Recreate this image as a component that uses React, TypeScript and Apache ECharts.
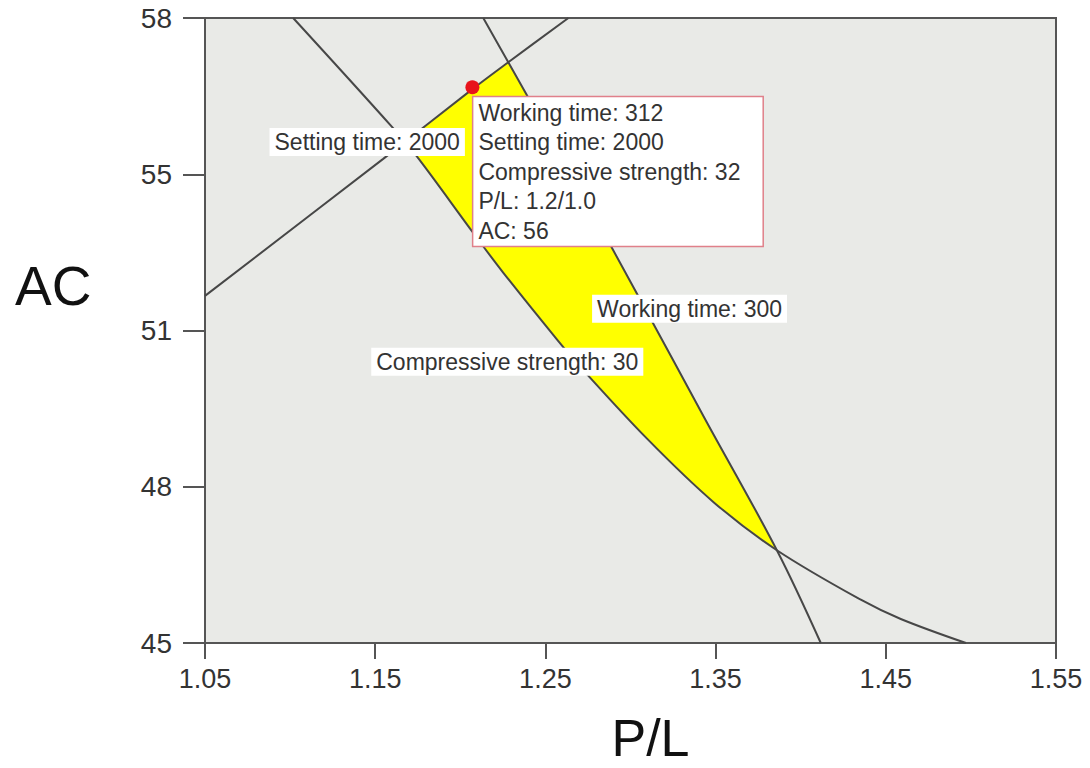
import React, { useEffect, useRef } from "react";
import * as echarts from "echarts";

// Contour: Setting time = 2000
const settingTimePL = [1.05, 1.1547, 1.2071, 1.2282, 1.2635];
const settingTimeAC = [52.22, 55.07, 56.52, 57.08, 58.0];
// Contour: Working time = 300
const workingTimePL = [1.2135, 1.2282, 1.2671, 1.3059, 1.3441, 1.386, 1.4118];
const workingTimeAC = [58.0, 57.08, 54.63, 52.13, 49.64, 46.93, 45.0];
// Contour: Compressive strength = 30
const strengthPL = [1.1018, 1.16, 1.1747, 1.2076, 1.2253, 1.2571, 1.2706, 1.31, 1.3488, 1.386, 1.4353, 1.4588, 1.4971];
const strengthAC = [58.0, 55.73, 55.11, 53.53, 52.7, 51.3, 50.74, 49.24, 47.93, 46.93, 45.9, 45.5, 45.0];
// Feasible (overlay) region
const regionPL = [1.1676, 1.2071, 1.2282, 1.2671, 1.3059, 1.3441, 1.386, 1.3488, 1.31, 1.2706, 1.2571, 1.2253, 1.2076, 1.1747];
const regionAC = [55.42, 56.52, 57.08, 54.63, 52.13, 49.64, 46.93, 47.93, 49.24, 50.74, 51.3, 52.7, 53.53, 55.11];
// Selected optimum point
const optimumPL = 1.2071;
const optimumAC = 56.56;
const optimumLines = ["Working time: 312", "Setting time: 2000", "Compressive strength: 32", "P/L: 1.2/1.0", "AC: 56"];
// Contour labels
const contourLabels = ["Setting time: 2000", "Working time: 300", "Compressive strength: 30"];
const contourLabelPL = [1.1453, 1.3347, 1.2276];
const contourLabelAC = [55.42, 51.95, 50.85];
// Axis ticks
const xTickValues = [1.05, 1.15, 1.25, 1.35, 1.45, 1.55];
const yTickValues = [45, 48.25, 51.5, 54.75, 58];
const yTickLabels = ["45", "48", "51", "55", "58"];

const FONT = "'Liberation Sans', Arial, Helvetica, sans-serif";
const LINE_COLOR = "#474747";
const AXIS_COLOR = "#555555";

const pairs = (xs: number[], ys: number[]) => xs.map((x, i) => [x, ys[i]]);

export default function App() {
  const ref = useRef<HTMLDivElement>(null);
  useEffect(() => {
    if (!ref.current) return;
    const chart = echarts.init(ref.current, null, { renderer: "svg" });
    const contourLine = (name: string, data: number[][]) => ({
      name,
      type: "line",
      data,
      smooth: 0.35,
      symbol: "none",
      lineStyle: { color: LINE_COLOR, width: 2 },
      z: 3,
    });
    const option: any = {
      animation: false,
      backgroundColor: "#ffffff",
      textStyle: { fontFamily: FONT },
      grid: {
        left: 205,
        right: 34,
        top: 18,
        bottom: 125,
        outerBoundsMode: "none",
        containLabel: false,
        show: true,
        backgroundColor: "#e9eae7",
        borderColor: AXIS_COLOR,
        borderWidth: 2,
      },
      graphic: [
        {
          type: "text",
          left: 15,
          top: 258,
          style: { text: "AC", fontSize: 55, fill: "#111", fontFamily: FONT },
        },
      ],
      xAxis: {
        type: "value",
        min: 1.05,
        max: 1.55,
        name: "P/L",
        nameLocation: "middle",
        nameGap: 73,
        nameTextStyle: { fontSize: 52, lineHeight: 44, color: "#111", fontFamily: FONT, padding: [0, 0, 0, 40] },
        axisLine: { show: true, onZero: false, lineStyle: { color: AXIS_COLOR, width: 2 } },
        axisTick: { show: true, length: 16, customValues: xTickValues, lineStyle: { color: AXIS_COLOR, width: 2 } },
        axisLabel: {
          customValues: xTickValues,
          formatter: (v: number) => v.toFixed(2),
          fontSize: 27,
          color: "#333",
          margin: 22,
          fontFamily: FONT,
        },
        splitLine: { show: false },
      },
      yAxis: {
        type: "value",
        min: 45,
        max: 58,
        axisLine: { show: true, onZero: false, lineStyle: { color: AXIS_COLOR, width: 2 } },
        axisTick: { show: true, length: 22, customValues: yTickValues, lineStyle: { color: AXIS_COLOR, width: 2 } },
        axisLabel: {
          customValues: yTickValues,
          formatter: (v: number) => {
            const i = yTickValues.findIndex((t) => Math.abs(t - v) < 1e-6);
            return i >= 0 ? yTickLabels[i] : "";
          },
          fontSize: 28,
          color: "#333",
          margin: 33,
          fontFamily: FONT,
        },
        splitLine: { show: false },
      },
      series: [
        {
          name: "Overlay region",
          type: "custom",
          data: [[regionPL[0], regionAC[0]]],
          z: 2,
          silent: true,
          renderItem: (_params: any, api: any) => {
            const points = regionPL.map((x, i) => api.coord([x, regionAC[i]]));
            return {
              type: "polygon",
              shape: { points, smooth: 0 },
              style: { fill: "#ffff00", stroke: "#ffff00", lineWidth: 1 },
            };
          },
        },
        contourLine("Setting time", pairs(settingTimePL, settingTimeAC)),
        contourLine("Working time", pairs(workingTimePL, workingTimeAC)),
        contourLine("Compressive strength", pairs(strengthPL, strengthAC)),
        {
          name: "Contour labels",
          type: "scatter",
          symbolSize: 0,
          z: 5,
          silent: true,
          itemStyle: { opacity: 1 },
          data: contourLabels.map((t, i) => ({ value: [contourLabelPL[i], contourLabelAC[i]], name: t })),
          label: {
            show: true,
            position: "inside",
            formatter: (p: any) => p.name,
            fontSize: 23,
            fontFamily: FONT,
            color: "#333",
            backgroundColor: "#ffffff",
            padding: [3, 5, 2, 5],
          },
        },
        {
          name: "Optimum",
          type: "scatter",
          symbol: "circle",
          symbolSize: 14,
          z: 6,
          silent: true,
          itemStyle: { color: "#e8131b", opacity: 1 },
          data: [[optimumPL, optimumAC]],
          label: {
            show: true,
            position: [8, 17],
            align: "left",
            verticalAlign: "top",
            formatter: optimumLines.join("\n"),
            fontSize: 23,
            lineHeight: 29.5,
            fontFamily: FONT,
            color: "#333",
            backgroundColor: "#ffffff",
            borderColor: "#e0808a",
            borderWidth: 1.5,
            padding: [1, 22, 0, 5],
          },
        },
      ],
    };
    chart.setOption(option);
    return () => chart.dispose();
  }, []);
  return (
    <div
      ref={ref}
      style={{ position: "absolute", left: 0, top: 0, width: 1090, height: 768, background: "#fff" }}
    />
  );
}
